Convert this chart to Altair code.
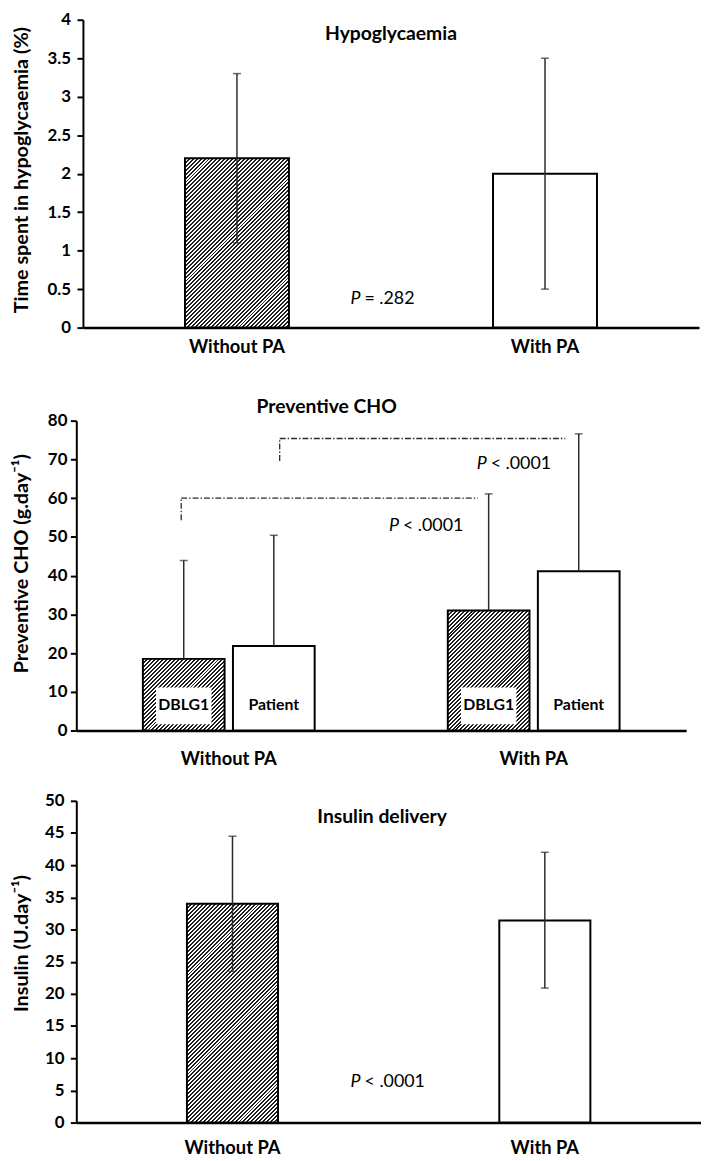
import altair as alt
import pandas as pd

FONT = "Lato"
INK = "black"
ERR = "#2b2b2b"
DARK = "#1e1e1e"

groups = ["Without PA", "With PA"]

# ---------- Panel 1: hypoglycaemia ----------
hypo_mean = [2.2, 2.0]
hypo_low = [1.1, 0.5]
hypo_high = [3.3, 3.5]
hypo_ticks = [0, 0.5, 1, 1.5, 2, 2.5, 3, 3.5, 4]

# ---------- Panel 2: preventive CHO ----------
cho_group = ["Without PA", "Without PA", "With PA", "With PA"]
cho_series = ["DBLG1", "Patient", "DBLG1", "Patient"]
cho_mean = [18.5, 21.8, 31.0, 41.1]
cho_high = [43.9, 50.4, 61.1, 76.6]
cho_ticks = [0, 10, 20, 30, 40, 50, 60, 70, 80]
cho_box_low = 1.6
cho_box_high = 11.1
cho_label_y = 6.6

# brackets, x in category units (0..2 across the axis, category centres 0.5 / 1.5)
br_x = [0.344, 0.667]
br_x2 = [1.317, 1.604]
br_ylow = [54.3, 69.6]
br_y = [60.0, 75.4]

# ---------- Panel 3: insulin ----------
ins_mean = [34.0, 31.4]
ins_low = [23.5, 20.9]
ins_high = [44.5, 42.0]
ins_ticks = [0, 5, 10, 15, 20, 25, 30, 35, 40, 45, 50]

# ---------- annotations ----------
panel_titles = ["Hypoglycaemia", "Preventive CHO", "Insulin delivery"]
panel_title_x = [1.0, 0.821, 0.979]
panel_title_y = [3.81, 83.6, 47.45]
p1_x, p1_y, p1_t = [0.901], [0.373], ["= .282"]
p2_x, p2_y, p2_t = [1.058, 1.346], [52.9, 68.8], ["< .0001", "< .0001"]
p3_x, p3_y, p3_t = [0.91], [6.25], ["< .0001"]

# ---------- layout ----------
W1, H1 = 629, 311
X1_RANGE = [6.7, 629]
W2, H2, TOP2 = 616, 313, 23
W3, H3 = 631, 325
ORIGIN = 76.0
YT_CENTER = 21.0
YT_SIZE = 20


def band_pad(span, bw):
    p = 1 - bw / (span / 2.0)
    return p, p / 2.0


def hatch(w, h, period=4.0, frac=0.5):
    a = (w + h) / (w * w + h * h)
    n = (w + h) / period
    stops = []
    i = 0
    while i < n:
        t0 = i / n
        t1 = min((i + frac) / n, 1.0)
        t2 = min((i + 1) / n, 1.0)
        stops += [(t0, DARK), (t1, DARK), (t1, "white"), (t2, "white")]
        i += 1
    return alt.LinearGradient(
        gradient="linear", x1=0, y1=0, x2=a * w, y2=a * h,
        stops=[alt.GradientStop(color=c, offset=round(o, 6)) for o, c in stops],
    )


def xaxis(pad):
    return alt.Axis(title=None, labelAngle=0, labelFont=FONT, labelFontSize=18.5,
                    labelFontWeight="bold", labelColor=INK, labelPadding=pad,
                    domainColor=INK, domainWidth=2.5, ticks=False, tickSize=0, grid=False)


def yaxis(title, values, fmt, title_x, title_y, label_pad, offset=0):
    return alt.Axis(title=title, values=values, format=fmt, grid=False, offset=offset,
                    domainColor=INK, domainWidth=2, tickColor=INK, tickWidth=2, tickSize=6,
                    labelFont=FONT, labelFontSize=17, labelFontWeight="bold", labelColor=INK,
                    labelPadding=label_pad,
                    titleFont=FONT, titleFontSize=YT_SIZE, titleFontWeight="bold", titleColor=INK,
                    titleAngle=270, titleBaseline="middle", titleAlign="center",
                    titleX=title_x, titleY=title_y)


def p_layers(xs, ys, ts, xscale, Y):
    d = pd.DataFrame({"x": xs, "y": ys, "t": ts})
    X = alt.X("x:Q", scale=xscale, axis=None)
    pl = alt.Chart(d).mark_text(font=FONT, fontSize=18, fontStyle="italic", align="right",
                                color=INK).encode(x=X, y=Y("y"), text=alt.value("P"))
    rest = alt.Chart(d).mark_text(font=FONT, fontSize=18, align="left", dx=4,
                                  color=INK).encode(x=X, y=Y("y"), text="t:N")
    return [pl, rest]


def title_layer(i, xscale, Y):
    d = pd.DataFrame({"x": [panel_title_x[i]], "y": [panel_title_y[i]], "t": [panel_titles[i]]})
    return alt.Chart(d).mark_text(font=FONT, fontSize=19.5, fontWeight="bold", color=INK).encode(
        x=alt.X("x:Q", scale=xscale, axis=None), y=Y("y"), text="t:N")


# ================= Panel 1 =================
df1 = pd.DataFrame({"group": groups, "mean": hypo_mean, "low": hypo_low, "high": hypo_high})
bw1 = 105
pi1, po1 = band_pad(X1_RANGE[1] - X1_RANGE[0], bw1)
x1 = alt.X("group:N", sort=groups,
           scale=alt.Scale(domain=groups, range=X1_RANGE, paddingInner=pi1, paddingOuter=po1),
           axis=xaxis(10.5))
ys1 = alt.Scale(domain=[0, 4], nice=False)
ax1 = yaxis("Time spent in hypoglycaemia (%)", hypo_ticks, ".2~g",
            YT_CENTER - (ORIGIN + X1_RANGE[0]), H1 * 0.487, 6.5, offset=-X1_RANGE[0])


def Y1(f):
    return alt.Y(f"{f}:Q", scale=ys1, axis=ax1)


b1h = alt.Chart(df1).transform_filter(alt.datum.group == groups[0]).mark_bar(
    fill=hatch(bw1, hypo_mean[0] * H1 / 4), stroke=INK, strokeWidth=2).encode(x=x1, y=Y1("mean"))
b1w = alt.Chart(df1).transform_filter(alt.datum.group == groups[1]).mark_bar(
    fill="white", stroke=INK, strokeWidth=2).encode(x=x1, y=Y1("mean"))
e1 = alt.Chart(df1).mark_rule(color=ERR, strokeWidth=1.5).encode(x=x1, y=Y1("low"), y2="high")
c1a = alt.Chart(df1).mark_tick(color=ERR, thickness=1.5, size=8, orient="horizontal").encode(x=x1, y=Y1("low"))
c1b = alt.Chart(df1).mark_tick(color=ERR, thickness=1.5, size=8, orient="horizontal").encode(x=x1, y=Y1("high"))
xo1 = alt.Scale(domain=[0, 2], range=X1_RANGE)
p1 = alt.layer(
    alt.layer(b1h, b1w, e1, c1a, c1b),
    alt.layer(title_layer(0, xo1, Y1), *p_layers(p1_x, p1_y, p1_t, xo1, Y1)),
).resolve_scale(x="independent").properties(width=W1, height=H1)

# ================= Panel 2 =================
df2 = pd.DataFrame({"group": cho_group, "series": cho_series, "mean": cho_mean, "high": cho_high,
                    "box_lo": cho_box_low, "box_hi": cho_box_high, "ly": cho_label_y})
gw2 = 173.5
pi2, po2 = band_pad(W2, gw2)
sub_pi = 0.093
sub_bw = gw2 / (2 - sub_pi) * (1 - sub_pi)
series = ["DBLG1", "Patient"]
x2 = alt.X("group:N", sort=groups,
           scale=alt.Scale(domain=groups, range=[0, W2], paddingInner=pi2, paddingOuter=po2),
           axis=xaxis(19))
xoff = alt.XOffset("series:N", sort=series,
                   scale=alt.Scale(domain=series, paddingInner=sub_pi, paddingOuter=0))
ys2 = alt.Scale(domain=[0, 80], nice=False, range=[H2 + TOP2, TOP2])
ax2 = yaxis("Preventive CHO (g.day\u207b\u00b9)", cho_ticks, "d", YT_CENTER - ORIGIN,
            TOP2 + H2 * 0.46, 3.5)


def Y2(f):
    return alt.Y(f"{f}:Q", scale=ys2, axis=ax2)


band2 = []
for i in range(len(cho_mean)):
    g, s = cho_group[i], cho_series[i]
    if s == "DBLG1":
        fill = hatch(sub_bw, cho_mean[i] * H2 / 80)
    else:
        fill = "white"
    band2.append(alt.Chart(df2).transform_filter(
        (alt.datum.group == g) & (alt.datum.series == s)).mark_bar(
        fill=fill, stroke=INK, strokeWidth=2).encode(x=x2, xOffset=xoff, y=Y2("mean")))
band2.append(alt.Chart(df2).transform_filter(alt.datum.series == "DBLG1").mark_bar(
    fill="white", width=56).encode(x=x2, xOffset=xoff, y=Y2("box_lo"), y2="box_hi"))
band2.append(alt.Chart(df2).mark_text(font=FONT, fontSize=16, fontWeight="bold", color=INK).encode(
    x=x2, xOffset=xoff, y=Y2("ly"), text="series:N"))
band2.append(alt.Chart(df2).mark_rule(color=ERR, strokeWidth=1.5).encode(
    x=x2, xOffset=xoff, y=Y2("mean"), y2="high"))
band2.append(alt.Chart(df2).mark_tick(color=ERR, thickness=1.5, size=8, orient="horizontal").encode(
    x=x2, xOffset=xoff, y=Y2("high")))

xo2 = alt.Scale(domain=[0, 2], range=[0, W2])
seg = pd.DataFrame({
    "x": br_x + br_x, "x2": br_x + br_x2,
    "y": br_ylow + br_y, "y2": br_y + br_y,
})
brackets = alt.Chart(seg).mark_rule(color=ERR, strokeWidth=1.3, strokeDash=[6, 2, 1.5, 2]).encode(
    x=alt.X("x:Q", scale=xo2, axis=None), x2="x2", y=Y2("y"), y2="y2")
p2 = alt.layer(
    alt.layer(*band2),
    alt.layer(brackets, title_layer(1, xo2, Y2), *p_layers(p2_x, p2_y, p2_t, xo2, Y2)),
).resolve_scale(x="independent").properties(width=W2, height=H2 + TOP2)

# ================= Panel 3 =================
df3 = pd.DataFrame({"group": groups, "mean": ins_mean, "low": ins_low, "high": ins_high})
bw3 = 92
pi3, po3 = band_pad(W3, bw3)
x3 = alt.X("group:N", sort=groups,
           scale=alt.Scale(domain=groups, range=[0, W3], paddingInner=pi3, paddingOuter=po3),
           axis=xaxis(16.5))
ys3 = alt.Scale(domain=[0, 50], nice=False)
ax3 = yaxis("Insulin (U.day\u207b\u00b9)", ins_ticks, "d", YT_CENTER - ORIGIN, H3 * 0.442, 6.5)


def Y3(f):
    return alt.Y(f"{f}:Q", scale=ys3, axis=ax3)


b3h = alt.Chart(df3).transform_filter(alt.datum.group == groups[0]).mark_bar(
    fill=hatch(bw3, ins_mean[0] * H3 / 50), stroke=INK, strokeWidth=2).encode(x=x3, y=Y3("mean"))
b3w = alt.Chart(df3).transform_filter(alt.datum.group == groups[1]).mark_bar(
    fill="white", stroke=INK, strokeWidth=2).encode(x=x3, y=Y3("mean"))
e3 = alt.Chart(df3).mark_rule(color=ERR, strokeWidth=1.5).encode(x=x3, y=Y3("low"), y2="high")
c3a = alt.Chart(df3).mark_tick(color=ERR, thickness=1.5, size=8, orient="horizontal").encode(x=x3, y=Y3("low"))
c3b = alt.Chart(df3).mark_tick(color=ERR, thickness=1.5, size=8, orient="horizontal").encode(x=x3, y=Y3("high"))
xo3 = alt.Scale(domain=[0, 2], range=[0, W3])
p3 = alt.layer(
    alt.layer(b3h, b3w, e3, c3a, c3b),
    alt.layer(title_layer(2, xo3, Y3), *p_layers(p3_x, p3_y, p3_t, xo3, Y3)),
).resolve_scale(x="independent").properties(width=W3, height=H3)

chart = alt.vconcat(p1, p2, p3, spacing=71, bounds="flush").properties(
    padding={"left": YT_CENTER - 18, "top": -3, "right": 0, "bottom": 0},
    background="white").configure_view(strokeWidth=0)

chart.save("out.html", embed_options={"renderer": "svg", "actions": False})
